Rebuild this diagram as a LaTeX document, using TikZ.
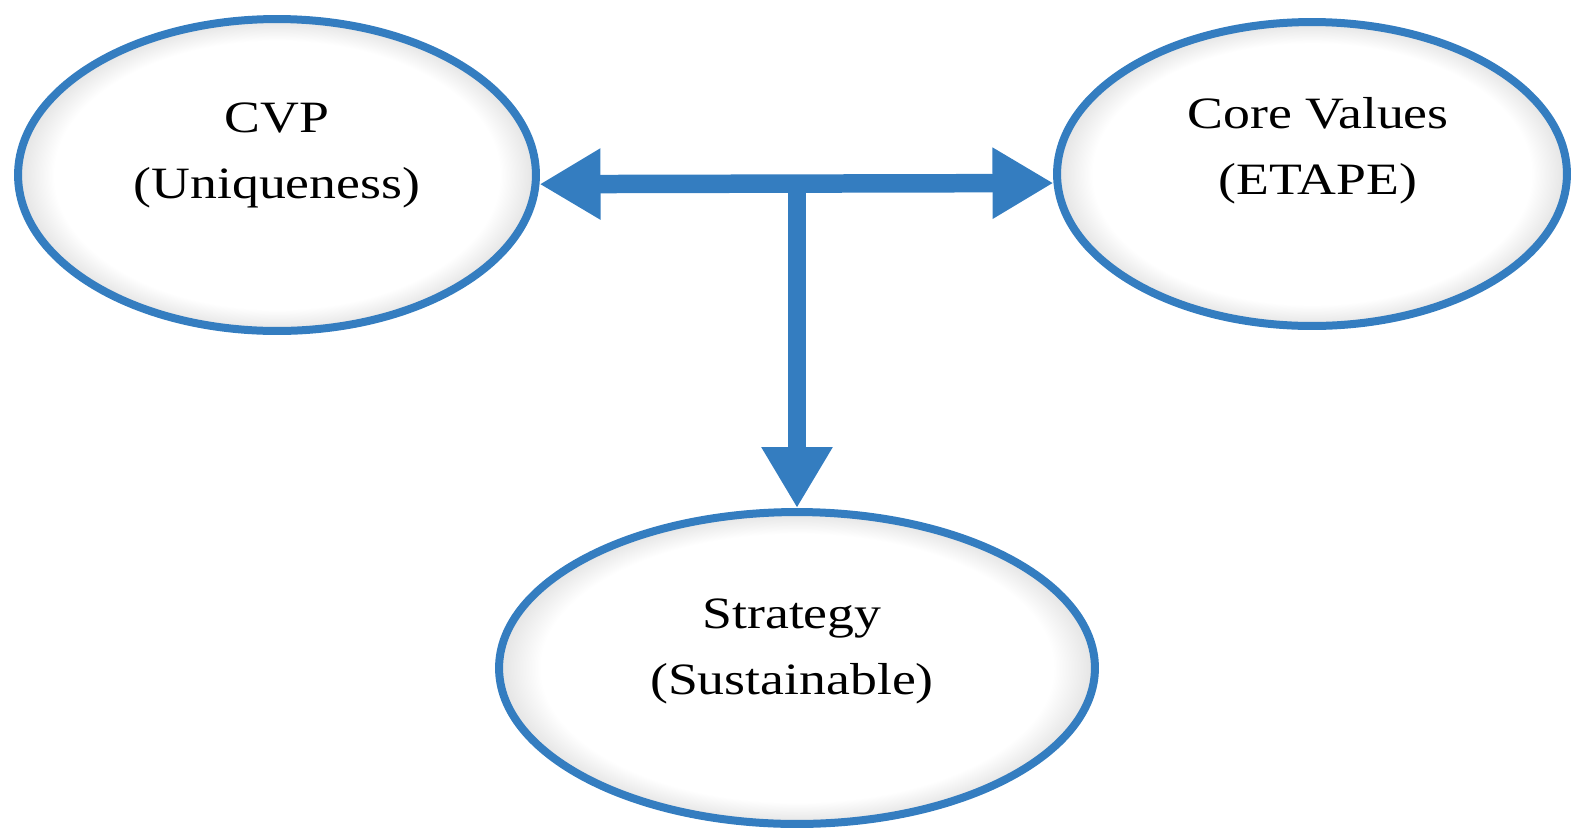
\documentclass[tikz,border=0pt]{standalone}
\usepackage{fontspec}
\setmainfont[FakeStretch=1.2]{Liberation Serif}
\usepackage{xcolor}
\usepackage{tikz}
\usetikzlibrary{shapes.geometric, arrows.meta, positioning}
\definecolor{ovalblue}{RGB}{52,125,192}
\pgfdeclareradialshading{innerglow}{\pgfpoint{0bp}{0bp}}{color(0bp)=(white); color(21.5bp)=(white); color(25bp)=(black!11); color(50bp)=(black!11)}
\tikzstyle{bar} = [ovalblue, line width=0.37cm, -{Triangle[length=1.22cm, width=1.34cm]}]
\tikzstyle{oval} = [ellipse, draw=ovalblue, line width=0.16cm, inner sep=0pt, shading=innerglow]
\tikzstyle{ovaltext} = [align=center, inner sep=0pt, font=\fontsize{25.5}{37.5}\selectfont]

\begin{document}
\begin{tikzpicture}[x=0.02cm, y=-0.02cm]
\useasboundingbox (0,0) rectangle (1573,833);

% Main Components
\node (cvp) [oval, minimum width=10.36cm, minimum height=6.24cm] at (277,175) {};
\node (core) [oval, minimum width=10.2cm, minimum height=6.08cm] at (1312,174) {};
\node (strategy) [oval, minimum width=11.92cm, minimum height=6.24cm] at (797,668) {};

% Labels
\node (cvptext) [ovaltext] at (277,155) {CVP\\(Uniqueness)};
\node (coretext) [ovaltext] at (1318,151) {Core Values\\(ETAPE)};
\node (strategytext) [ovaltext] at (792,651) {Strategy\\(Sustainable)};

% Connections
\coordinate (hub) at (797,185);
\draw [bar, {Triangle[length=1.22cm, width=1.34cm]}-{Triangle[length=1.22cm, width=1.34cm]}] (cvp.-2) -- (core.182);
\draw [bar] (hub) -- (strategy.north);

\end{tikzpicture}
\end{document}
